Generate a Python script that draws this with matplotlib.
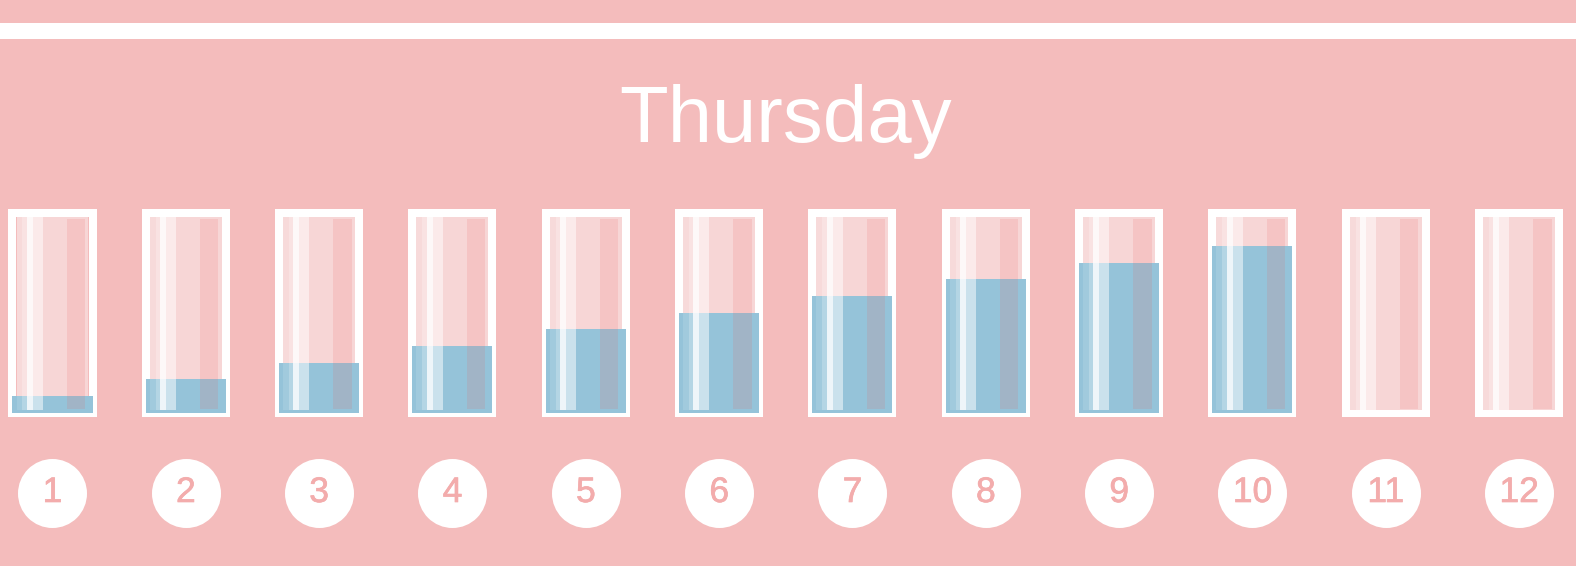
import matplotlib
matplotlib.use("Agg")
import matplotlib.pyplot as plt
import matplotlib.patheffects as pe
from matplotlib.patches import Rectangle

# ---- data ----
title = "Thursday"
hours = ["1", "2", "3", "4", "5", "6", "7", "8", "9", "10", "11", "12"]
levels = [1, 2, 3, 4, 5, 6, 7, 8, 9, 10, 0, 0]
capacity = 12

# ---- style ----
BG = "#f4bcbc"
BLUE = "#95c3d9"
BASE = "#f7d6d6"
NUM = "#f3acac"

W, H, DPI = 1576, 566, 100
PX_X = 1 / 133.333          # data units per pixel (x)
PX_Y = 1 / 16.667           # data units per pixel (y)
Y0_PX = 412.7               # pixel row of level 0
X1_PX = 52.5                # pixel column of first glass centre

fig = plt.figure(figsize=(W / DPI, H / DPI), dpi=DPI, facecolor=BG)
ax = fig.add_axes([0, 0, 1, 1])
ax.set_facecolor(BG)
ax.set_axis_off()
xl = 1 - X1_PX * PX_X
ax.set_xlim(xl, xl + W * PX_X)
ax.set_ylim(-(H - Y0_PX) * PX_Y, Y0_PX * PX_Y)

def py(p):  # pixel row -> data y
    return (Y0_PX - p) * PX_Y

# top white band
ax.axhspan(py(39), py(23), color="white", lw=0, zorder=1)

# title
ax.text(xl + 786 * PX_X, py(141.7), title, ha="center", va="baseline",
        color="white", fontsize=57.5, family="Liberation Sans", zorder=5)

half = 40 * PX_X
for i, (lab, v) in enumerate(zip(hours, levels)):
    c = i + 1
    # glass outline
    ax.add_patch(Rectangle((c - half, 0), 2 * half, capacity, fill=False,
                           ec="white", lw=8 * 72 / DPI, joinstyle="miter", zorder=2))
    # inner base
    ax.add_patch(Rectangle((c - 36 * PX_X, py(409.5)), 72 * PX_X, py(216.7) - py(409.5),
                           fc=BASE, lw=0, zorder=3))
    # water
    if v > 0:
        ax.bar(c, v, width=2 * half, bottom=0, color=BLUE, lw=0, zorder=4)
    # highlight stripes (semi-transparent)
    stripes = [(-36, -30.2, 0.12), (-30.2, -25.8, 0.3), (-25.8, -19.8, 0.85), (-19.8, -9.8, 0.5)]
    for a, b, al in stripes:
        ax.add_patch(Rectangle((c + a * PX_X, py(409.5)), (b - a) * PX_X, py(216.7) - py(409.5),
                               fc="white", alpha=al, lw=0, zorder=5))
    ax.add_patch(Rectangle((c + 14.2 * PX_X, py(409)), 18.3 * PX_X, py(219) - py(409),
                           fc="#ea6060", alpha=0.15, lw=0, zorder=5))
    # number circle
    ax.scatter([c], [py(492.7)], s=(2 * 34.5 * 72 / DPI) ** 2, c="white", lw=0, zorder=6)
    ax.text(c, py(502.0), lab, ha="center", va="baseline", color=NUM,
            fontsize=25.5, family="Liberation Sans", zorder=7,
            path_effects=[pe.withStroke(linewidth=0.5, foreground=NUM)])

fig.savefig("out.png", dpi=DPI, facecolor=BG)
